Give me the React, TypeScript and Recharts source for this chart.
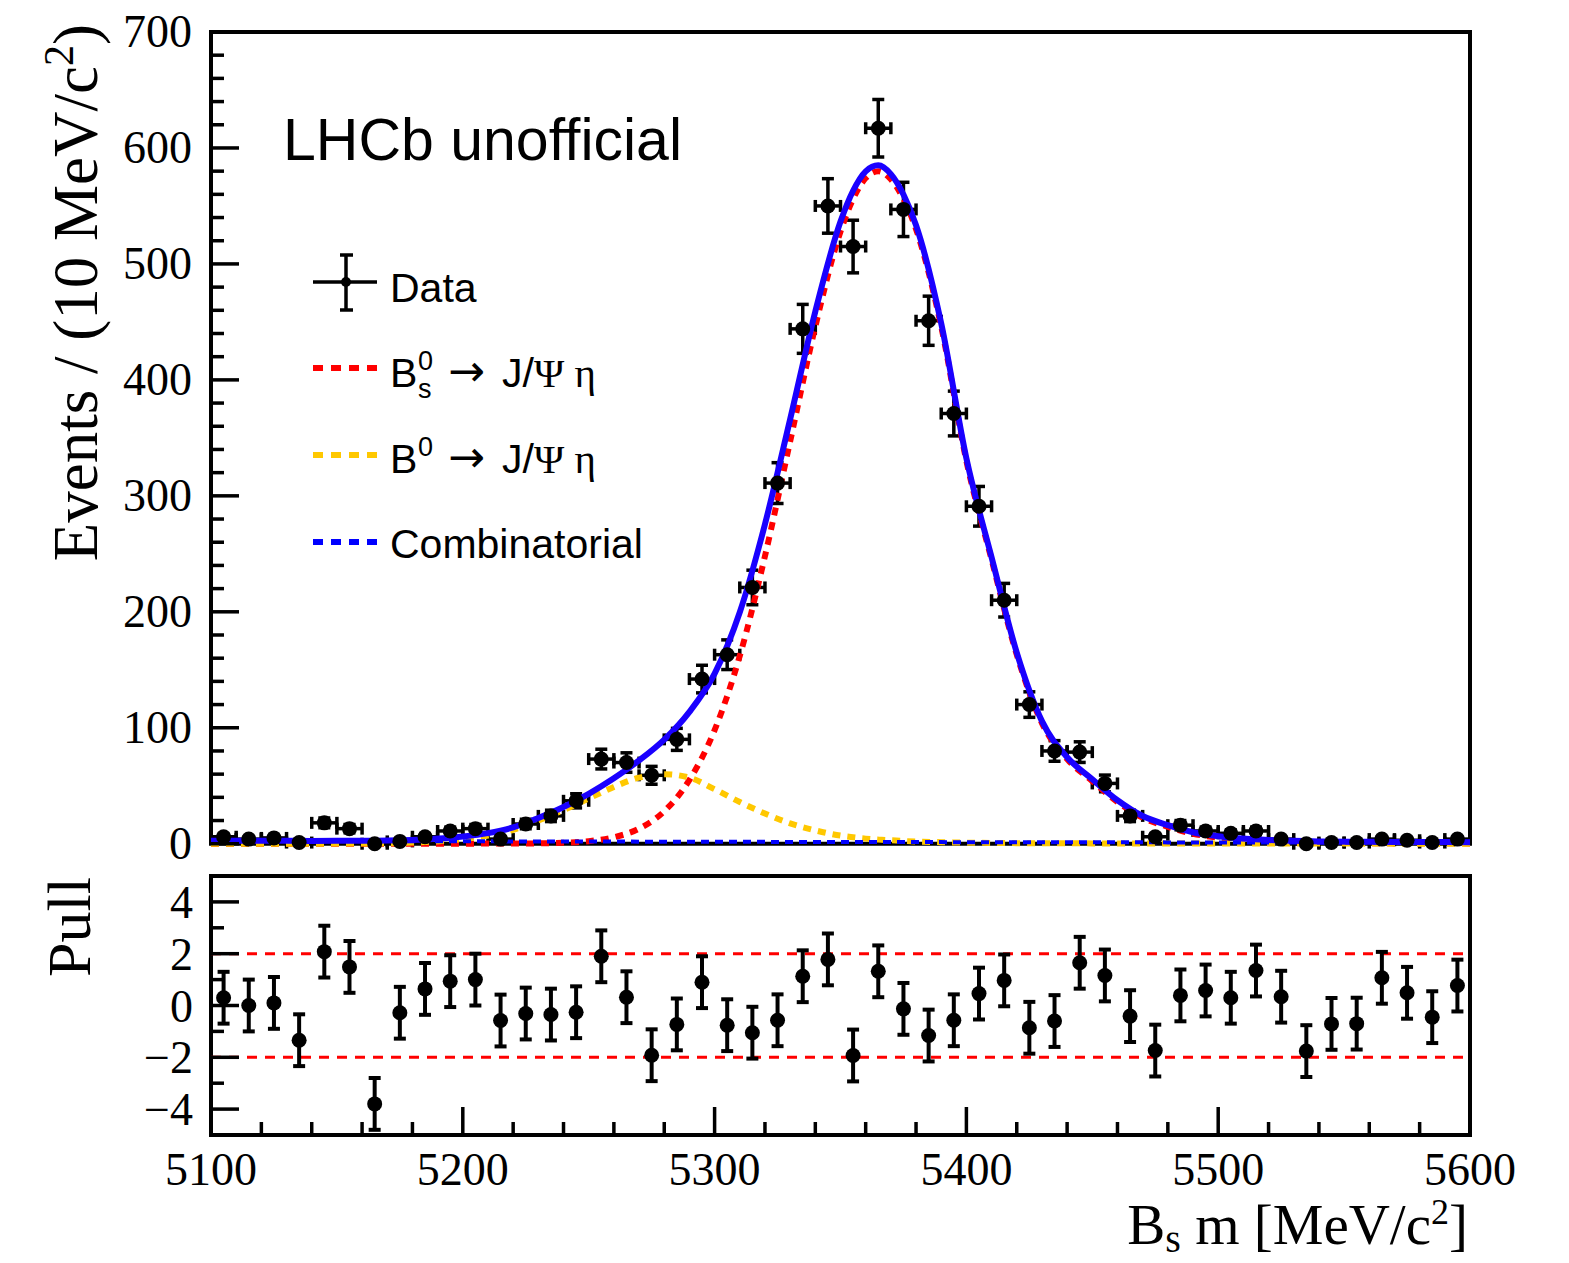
import React from "react";
import {
  ComposedChart,
  Line,
  Scatter,
  ErrorBar,
  XAxis,
  YAxis,
  ReferenceArea,
  ReferenceLine,
} from "recharts";

// binned data, 10 MeV bins
const BIN_CENTERS = [
  5105, 5115, 5125, 5135, 5145, 5155, 5165, 5175, 5185, 5195,
  5205, 5215, 5225, 5235, 5245, 5255, 5265, 5275, 5285, 5295,
  5305, 5315, 5325, 5335, 5345, 5355, 5365, 5375, 5385, 5395,
  5405, 5415, 5425, 5435, 5445, 5455, 5465, 5475, 5485, 5495,
  5505, 5515, 5525, 5535, 5545, 5555, 5565, 5575, 5585, 5595,
];
const EVENTS = [
  6, 4, 5, 1, 18, 13, 0, 2, 6, 11,
  13, 4, 17, 24, 37, 73, 70, 59, 90, 142,
  163, 221, 311, 444, 550, 515, 617, 547, 451, 371,
  291, 210, 120, 80, 79, 52, 24, 6, 16, 11,
  9, 11, 4, 0, 1, 1, 4, 3, 1, 4,
];
const EVENT_ERRORS = [
  2.4, 2, 2.2, 1, 4.2, 3.6, 1.1, 1.4, 2.4, 3.3,
  3.6, 2, 4.1, 4.9, 6.1, 8.5, 8.4, 7.7, 9.5, 11.9,
  12.8, 14.9, 17.6, 21.1, 23.5, 22.7, 24.8, 23.4, 21.2, 19.3,
  17.1, 14.5, 11, 8.9, 8.9, 7.2, 4.9, 2.4, 4, 3.3,
  3, 3.3, 2, 1.1, 1, 1, 2, 1.7, 1, 2,
];
const BIN_HALF_WIDTH = 5;
const PULLS = [
  0.3, 0.0, 0.1, -1.34, 2.08, 1.49, -3.8, -0.28, 0.64, 0.94,
  1.0, -0.58, -0.31, -0.35, -0.26, 1.9, 0.32, -1.92, -0.73, 0.9,
  -0.76, -1.05, -0.57, 1.13, 1.78, -1.93, 1.32, -0.13, -1.16, -0.57,
  0.46, 0.97, -0.86, -0.6, 1.65, 1.16, -0.41, -1.74, 0.39, 0.58,
  0.3, 1.35, 0.34, -1.76, -0.71, -0.7, 1.07, 0.49, -0.45, 0.77,
];
const PULL_ERROR = 1;

// fit components
const CURVE_MASS = [
  5100, 5120, 5140, 5160, 5180, 5200, 5210, 5220, 5230, 5240,
  5250, 5260, 5270, 5280, 5290, 5300, 5310, 5320, 5330, 5340,
  5350, 5355, 5360, 5365, 5370, 5375, 5380, 5390, 5400, 5410,
  5420, 5430, 5440, 5450, 5460, 5470, 5480, 5490, 5500, 5520,
  5540, 5560, 5580, 5600,
];
const BS_SIGNAL = [
  0, 0, 0, 0, 0, 0.05, 0.1, 0.1, 0.3, 0.8,
  2.2, 5.6, 13, 28, 55, 98, 162, 248, 347, 446,
  528, 556, 574, 580, 573, 556, 530, 446, 330, 245,
  163, 104, 73, 54, 36, 22.5, 14.6, 8.6, 5.2, 2.0,
  0.8, 0.5, 0.4, 0.3,
];
const B0_SIGNAL = [
  0, 0, 0.05, 0.2, 1, 4, 7, 12, 20, 29,
  39, 49, 57, 60, 57, 47, 36, 26, 17.5, 11.5,
  7, 5.6, 4.4, 3.6, 3, 2.4, 1.9, 1.3, 0.9, 0.7,
  0.5, 0.45, 0.35, 0.3, 0.25, 0.2, 0.2, 0.15, 0.15, 0.1,
  0.1, 0.1, 0.05, 0.05,
];
const COMBINATORIAL = [
  2.6, 2.5, 2.4, 2.3, 2.2, 2.1, 2.05, 2.0, 1.96, 1.92,
  1.88, 1.84, 1.8, 1.76, 1.72, 1.68, 1.64, 1.6, 1.57, 1.54,
  1.5, 1.49, 1.47, 1.46, 1.44, 1.43, 1.41, 1.38, 1.35, 1.32,
  1.3, 1.27, 1.25, 1.22, 1.2, 1.18, 1.16, 1.14, 1.12, 1.09,
  1.06, 1.03, 1.01, 0.99,
];

const EVENT_TICKS = [
  0, 20, 40, 60, 80, 100, 120, 140, 160, 180, 200, 220, 240, 260, 280, 300,
  320, 340, 360, 380, 400, 420, 440, 460, 480, 500, 520, 540, 560, 580, 600,
  620, 640, 660, 680, 700,
];
const MASS_TICKS = [
  5100, 5120, 5140, 5160, 5180, 5200, 5220, 5240, 5260, 5280, 5300, 5320, 5340,
  5360, 5380, 5400, 5420, 5440, 5460, 5480, 5500, 5520, 5540, 5560, 5580, 5600,
];
const PULL_TICKS = [-4, -3, -2, -1, 0, 1, 2, 3, 4];

const SERIF = "'Liberation Serif', 'Times New Roman', serif";
const SANS = "'Liberation Sans', Arial, sans-serif";
const BLUE = "#1a00ff";
const RED = "#ff0000";
const ORANGE = "#ffc800";

const eventRows = BIN_CENTERS.map((mass, i) => ({
  mass,
  events: EVENTS[i],
  ey: EVENT_ERRORS[i],
  ex: BIN_HALF_WIDTH,
}));
const pullRows = BIN_CENTERS.map((mass, i) => ({ mass, pull: PULLS[i], ey: PULL_ERROR }));
const curveRows = CURVE_MASS.map((mass, i) => ({
  mass,
  bs: BS_SIGNAL[i],
  b0: B0_SIGNAL[i],
  comb: COMBINATORIAL[i],
  total: BS_SIGNAL[i] + B0_SIGNAL[i] + COMBINATORIAL[i],
}));

const Dot = (props: any) => <circle cx={props.cx} cy={props.cy} r={7.5} fill="#000" />;

function EventTick(props: any) {
  const { x, y, payload } = props;
  const major = payload.value % 100 === 0;
  return (
    <g>
      <line x1={x} x2={x + (major ? 28 : 13)} y1={y} y2={y} stroke="#000" strokeWidth={3.5} />
      {major && (
        <text x={x - 19} y={y + 15} textAnchor="end" fontFamily={SERIF} fontSize={46} fill="#000">
          {payload.value}
        </text>
      )}
    </g>
  );
}

function PullTick(props: any) {
  const { x, y, payload } = props;
  const major = payload.value % 2 === 0;
  const label = payload.value < 0 ? `\u2212${-payload.value}` : `${payload.value}`;
  return (
    <g>
      <line x1={x} x2={x + (major ? 28 : 13)} y1={y} y2={y} stroke="#000" strokeWidth={3.5} />
      {major && (
        <text x={x - 18} y={y + 16} textAnchor="end" fontFamily={SERIF} fontSize={46} fill="#000">
          {label}
        </text>
      )}
    </g>
  );
}

function MassTickBottom(props: any) {
  const { x, y, payload } = props;
  const major = payload.value % 100 === 0;
  return (
    <g>
      <line x1={x} x2={x} y1={y} y2={y - (major ? 28 : 13)} stroke="#000" strokeWidth={3.5} />
      {major && (
        <text x={x} y={y + 50} textAnchor="middle" fontFamily={SERIF} fontSize={46} fill="#000">
          {payload.value}
        </text>
      )}
    </g>
  );
}

function MassTickTop(props: any) {
  const { x, y, payload } = props;
  const major = payload.value % 100 === 0;
  return <line x1={x} x2={x} y1={y} y2={y + (major ? 28 : 13)} stroke="#000" strokeWidth={3.5} />;
}

function DecayLabel({ y, sub }: { y: number; sub: boolean }) {
  return (
    <g fontFamily={SANS}>
      <text x={390} y={y} fontSize={41}>B</text>
      {sub && <text x={418} y={y + 11} fontSize={27}>s</text>}
      <text x={418} y={y - 17} fontSize={27}>0</text>
      <text x={448} y={y - 1} fontSize={44} fontFamily="'DejaVu Sans', sans-serif">{"\u2192"}</text>
      <text x={502} y={y} fontSize={41}>
        {"J/"}
        <tspan fontFamily={SERIF}>{"\u03A8 \u03B7"}</tspan>
      </text>
    </g>
  );
}

function Overlay() {
  const sample = (y: number, color: string) => (
    <line x1={313} x2={377} y1={y} y2={y} stroke={color} strokeWidth={6} strokeDasharray="10 8" />
  );
  return (
    <svg
      width={1569}
      height={1263}
      style={{ position: "absolute", left: 0, top: 0, pointerEvents: "none" }}
    >
      <text transform="translate(97,24) rotate(-90)" textAnchor="end" fontFamily={SERIF} fontSize={63}>
        Events / (10 MeV/c<tspan dy={-24} fontSize={42}>2</tspan>
        <tspan dy={24}>)</tspan>
      </text>
      <text transform="translate(90,877) rotate(-90)" textAnchor="end" fontFamily={SERIF} fontSize={62}>
        Pull
      </text>
      <text x={1468} y={1244} textAnchor="end" fontFamily={SERIF} fontSize={57}>
        B<tspan dy={8} fontSize={40}>s</tspan>
        <tspan dy={-8}> m [MeV/c</tspan>
        <tspan dy={-20} fontSize={36}>2</tspan>
        <tspan dy={20}>]</tspan>
      </text>
      <text x={283} y={160} fontFamily={SANS} fontSize={59}>
        LHCb unofficial
      </text>

      {/* legend */}
      <line x1={313} x2={377} y1={282} y2={282} stroke="#000" strokeWidth={3.5} />
      <line x1={346} x2={346} y1={255} y2={310} stroke="#000" strokeWidth={3.5} />
      <line x1={340} x2={353} y1={255} y2={255} stroke="#000" strokeWidth={3.5} />
      <line x1={340} x2={353} y1={310} y2={310} stroke="#000" strokeWidth={3.5} />
      <circle cx={346} cy={282} r={5} fill="#000" />
      <text x={390} y={302} fontFamily={SANS} fontSize={41}>Data</text>

      {sample(368, RED)}
      <DecayLabel y={387} sub />

      {sample(455, ORANGE)}
      <DecayLabel y={473} sub={false} />

      {sample(542, "#0000ff")}
      <text x={390} y={558} fontFamily={SANS} fontSize={41}>Combinatorial</text>
    </svg>
  );
}

export default function App() {
  return (
    <div style={{ position: "absolute", left: 0, top: 0, width: 1569, height: 1263, background: "#fff" }}>
      <div style={{ position: "absolute", left: 0, top: 0 }}>
        <ComposedChart width={1569} height={880} margin={{ top: 32, right: 99, bottom: 35, left: 0 }}>
          <XAxis dataKey="mass" type="number" domain={[5100, 5600]} hide />
          <YAxis
            type="number"
            domain={[0, 700]}
            ticks={EVENT_TICKS}
            interval={0}
            width={211}
            tickSize={0}
            tickMargin={0}
            tickLine={false}
            axisLine={false}
            tick={<EventTick />}
          />
          <Scatter data={eventRows} dataKey="events" shape={<Dot />} isAnimationActive={false}>
            <ErrorBar dataKey="ey" direction="y" width={6} stroke="#000" strokeWidth={3.5} />
            <ErrorBar dataKey="ex" direction="x" width={6} stroke="#000" strokeWidth={3.5} />
          </Scatter>
          <Line data={curveRows} dataKey="bs" type="monotone" stroke={RED} strokeWidth={6}
            strokeDasharray="8 7" dot={false} isAnimationActive={false} />
          <Line data={curveRows} dataKey="b0" type="monotone" stroke={ORANGE} strokeWidth={6}
            strokeDasharray="8 7" dot={false} isAnimationActive={false} />
          <Line data={curveRows} dataKey="comb" type="monotone" stroke="#0000ff" strokeWidth={4}
            strokeDasharray="8 6" dot={false} isAnimationActive={false} />
          <Line data={curveRows} dataKey="total" type="monotone" stroke={BLUE} strokeWidth={6}
            dot={false} isAnimationActive={false} />
          <ReferenceArea x1={5100} x2={5600} y1={0} y2={700} fill="none" stroke="#000" strokeWidth={4} />
        </ComposedChart>
      </div>
      <div style={{ position: "absolute", left: 0, top: 860 }}>
        <ComposedChart width={1569} height={403} margin={{ top: 16, right: 99, bottom: 0, left: 0 }}>
          <XAxis
            dataKey="mass"
            type="number"
            domain={[5100, 5600]}
            ticks={MASS_TICKS}
            interval={0}
            height={128}
            tickSize={0}
            tickMargin={0}
            tickLine={false}
            axisLine={false}
            tick={<MassTickBottom />}
          />
          <XAxis
            xAxisId="top"
            orientation="top"
            dataKey="mass"
            type="number"
            domain={[5100, 5600]}
            ticks={MASS_TICKS}
            interval={0}
            height={0}
            tickSize={0}
            tickMargin={0}
            tickLine={false}
            axisLine={false}
            tick={<MassTickTop />}
          />
          <YAxis
            type="number"
            domain={[-5, 5]}
            ticks={PULL_TICKS}
            interval={0}
            width={211}
            tickSize={0}
            tickMargin={0}
            tickLine={false}
            axisLine={false}
            tick={<PullTick />}
          />
          <ReferenceLine y={2} stroke={RED} strokeWidth={3} strokeDasharray="10 8" />
          <ReferenceLine y={-2} stroke={RED} strokeWidth={3} strokeDasharray="10 8" />
          <Scatter data={pullRows} dataKey="pull" shape={<Dot />} isAnimationActive={false}>
            <ErrorBar dataKey="ey" direction="y" width={6} stroke="#000" strokeWidth={4} />
          </Scatter>
          <ReferenceArea x1={5100} x2={5600} y1={-5} y2={5} fill="none" stroke="#000" strokeWidth={4} />
        </ComposedChart>
      </div>
      <Overlay />
    </div>
  );
}
